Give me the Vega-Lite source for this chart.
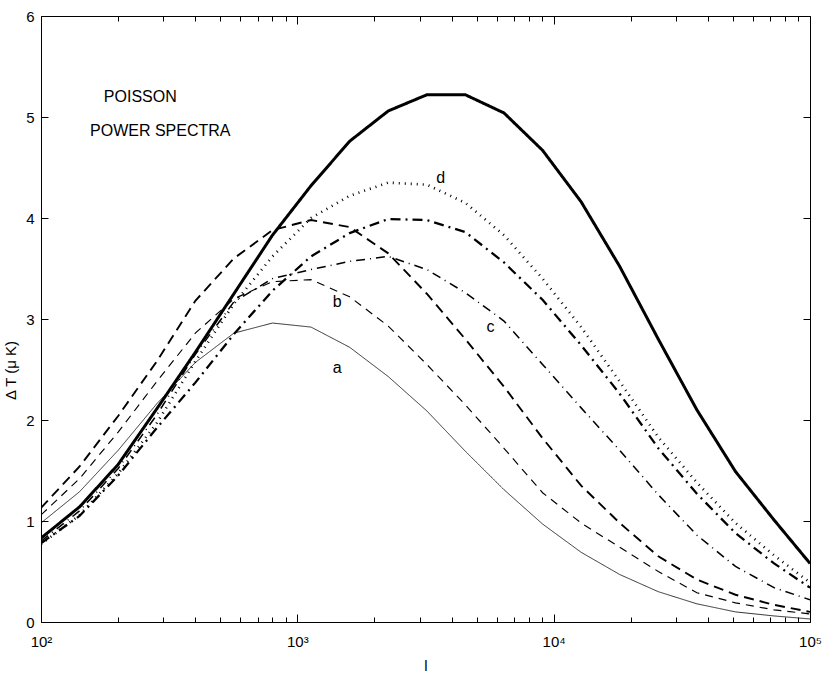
{
  "$schema": "https://vega.github.io/schema/vega-lite/v6.json",
  "autosize": "none",
  "width": 769,
  "height": 606,
  "padding": {"left": 41, "top": 16, "right": 20, "bottom": 53},
  "background": "white",
  "config": {
    "view": {"stroke": null},
    "font": "Liberation Sans",
    "axis": {
      "domainColor": "black",
      "domainWidth": 1,
      "tickColor": "black",
      "tickWidth": 1,
      "labelColor": "black",
      "labelFont": "Liberation Sans",
      "labelFontSize": 15,
      "titleColor": "black",
      "titleFont": "Liberation Sans",
      "titleFontSize": 15,
      "titleFontWeight": "normal",
      "grid": false
    }
  },
  "datasets": {
    "spectra": [
      {"s": "S", "l": 100, "v": 0.83}, {"s": "S", "l": 141.4, "v": 1.14}, {"s": "S", "l": 200, "v": 1.56},
      {"s": "S", "l": 282.8, "v": 2.11}, {"s": "S", "l": 400, "v": 2.67}, {"s": "S", "l": 565.7, "v": 3.25},
      {"s": "S", "l": 800, "v": 3.83}, {"s": "S", "l": 1131, "v": 4.32}, {"s": "S", "l": 1600, "v": 4.76},
      {"s": "S", "l": 2263, "v": 5.06}, {"s": "S", "l": 3200, "v": 5.22}, {"s": "S", "l": 4525, "v": 5.22},
      {"s": "S", "l": 6400, "v": 5.04}, {"s": "S", "l": 9051, "v": 4.67}, {"s": "S", "l": 12800, "v": 4.16},
      {"s": "S", "l": 18102, "v": 3.52}, {"s": "S", "l": 25600, "v": 2.8}, {"s": "S", "l": 36204, "v": 2.1},
      {"s": "S", "l": 51200, "v": 1.49}, {"s": "S", "l": 72408, "v": 1.01}, {"s": "S", "l": 100000, "v": 0.58},

      {"s": "D", "l": 100, "v": 0.77}, {"s": "D", "l": 141.4, "v": 1.06}, {"s": "D", "l": 200, "v": 1.47},
      {"s": "D", "l": 282.8, "v": 1.97}, {"s": "D", "l": 400, "v": 2.58}, {"s": "D", "l": 565.7, "v": 3.15},
      {"s": "D", "l": 800, "v": 3.62}, {"s": "D", "l": 1131, "v": 4.0}, {"s": "D", "l": 1600, "v": 4.22},
      {"s": "D", "l": 2263, "v": 4.35}, {"s": "D", "l": 3200, "v": 4.33}, {"s": "D", "l": 4525, "v": 4.15},
      {"s": "D", "l": 6400, "v": 3.83}, {"s": "D", "l": 9051, "v": 3.4}, {"s": "D", "l": 12800, "v": 2.92},
      {"s": "D", "l": 18102, "v": 2.38}, {"s": "D", "l": 25600, "v": 1.83}, {"s": "D", "l": 36204, "v": 1.38},
      {"s": "D", "l": 51200, "v": 0.98}, {"s": "D", "l": 72408, "v": 0.66}, {"s": "D", "l": 100000, "v": 0.39},

      {"s": "DD", "l": 100, "v": 0.78}, {"s": "DD", "l": 141.4, "v": 1.05}, {"s": "DD", "l": 200, "v": 1.45},
      {"s": "DD", "l": 282.8, "v": 1.92}, {"s": "DD", "l": 400, "v": 2.37}, {"s": "DD", "l": 565.7, "v": 2.85},
      {"s": "DD", "l": 800, "v": 3.28}, {"s": "DD", "l": 1131, "v": 3.62}, {"s": "DD", "l": 1600, "v": 3.85},
      {"s": "DD", "l": 2263, "v": 3.99}, {"s": "DD", "l": 3200, "v": 3.98}, {"s": "DD", "l": 4525, "v": 3.86},
      {"s": "DD", "l": 6400, "v": 3.56}, {"s": "DD", "l": 9051, "v": 3.19}, {"s": "DD", "l": 12800, "v": 2.74},
      {"s": "DD", "l": 18102, "v": 2.26}, {"s": "DD", "l": 25600, "v": 1.72}, {"s": "DD", "l": 36204, "v": 1.27},
      {"s": "DD", "l": 51200, "v": 0.88}, {"s": "DD", "l": 72408, "v": 0.58}, {"s": "DD", "l": 100000, "v": 0.34},

      {"s": "TD", "l": 100, "v": 1.13}, {"s": "TD", "l": 141.4, "v": 1.54}, {"s": "TD", "l": 200, "v": 2.04},
      {"s": "TD", "l": 282.8, "v": 2.58}, {"s": "TD", "l": 400, "v": 3.18}, {"s": "TD", "l": 565.7, "v": 3.6},
      {"s": "TD", "l": 800, "v": 3.88}, {"s": "TD", "l": 1131, "v": 3.98}, {"s": "TD", "l": 1600, "v": 3.91},
      {"s": "TD", "l": 2263, "v": 3.65}, {"s": "TD", "l": 3200, "v": 3.25}, {"s": "TD", "l": 4525, "v": 2.8},
      {"s": "TD", "l": 6400, "v": 2.33}, {"s": "TD", "l": 9051, "v": 1.82}, {"s": "TD", "l": 12800, "v": 1.35},
      {"s": "TD", "l": 18102, "v": 0.98}, {"s": "TD", "l": 25600, "v": 0.65}, {"s": "TD", "l": 36204, "v": 0.42},
      {"s": "TD", "l": 51200, "v": 0.27}, {"s": "TD", "l": 72408, "v": 0.17}, {"s": "TD", "l": 100000, "v": 0.1},

      {"s": "C", "l": 100, "v": 0.8}, {"s": "C", "l": 141.4, "v": 1.1}, {"s": "C", "l": 200, "v": 1.52},
      {"s": "C", "l": 282.8, "v": 2.05}, {"s": "C", "l": 400, "v": 2.65}, {"s": "C", "l": 565.7, "v": 3.17},
      {"s": "C", "l": 800, "v": 3.4}, {"s": "C", "l": 1131, "v": 3.49}, {"s": "C", "l": 1600, "v": 3.57},
      {"s": "C", "l": 2263, "v": 3.62}, {"s": "C", "l": 3200, "v": 3.49}, {"s": "C", "l": 4525, "v": 3.26},
      {"s": "C", "l": 6400, "v": 2.98}, {"s": "C", "l": 9051, "v": 2.55}, {"s": "C", "l": 12800, "v": 2.12},
      {"s": "C", "l": 18102, "v": 1.7}, {"s": "C", "l": 25600, "v": 1.26}, {"s": "C", "l": 36204, "v": 0.86},
      {"s": "C", "l": 51200, "v": 0.55}, {"s": "C", "l": 72408, "v": 0.34}, {"s": "C", "l": 100000, "v": 0.22},

      {"s": "B", "l": 100, "v": 1.06}, {"s": "B", "l": 141.4, "v": 1.42}, {"s": "B", "l": 200, "v": 1.88},
      {"s": "B", "l": 282.8, "v": 2.38}, {"s": "B", "l": 400, "v": 2.86}, {"s": "B", "l": 565.7, "v": 3.2},
      {"s": "B", "l": 800, "v": 3.37}, {"s": "B", "l": 1131, "v": 3.39}, {"s": "B", "l": 1600, "v": 3.22},
      {"s": "B", "l": 2263, "v": 2.93}, {"s": "B", "l": 3200, "v": 2.55}, {"s": "B", "l": 4525, "v": 2.15},
      {"s": "B", "l": 6400, "v": 1.72}, {"s": "B", "l": 9051, "v": 1.28}, {"s": "B", "l": 12800, "v": 0.98},
      {"s": "B", "l": 18102, "v": 0.74}, {"s": "B", "l": 25600, "v": 0.5}, {"s": "B", "l": 36204, "v": 0.29},
      {"s": "B", "l": 51200, "v": 0.19}, {"s": "B", "l": 72408, "v": 0.12}, {"s": "B", "l": 100000, "v": 0.08},

      {"s": "A", "l": 100, "v": 0.98}, {"s": "A", "l": 141.4, "v": 1.29}, {"s": "A", "l": 200, "v": 1.7},
      {"s": "A", "l": 282.8, "v": 2.16}, {"s": "A", "l": 400, "v": 2.57}, {"s": "A", "l": 565.7, "v": 2.86},
      {"s": "A", "l": 800, "v": 2.96}, {"s": "A", "l": 1131, "v": 2.92}, {"s": "A", "l": 1600, "v": 2.72},
      {"s": "A", "l": 2263, "v": 2.43}, {"s": "A", "l": 3200, "v": 2.09}, {"s": "A", "l": 4525, "v": 1.69},
      {"s": "A", "l": 6400, "v": 1.31}, {"s": "A", "l": 9051, "v": 0.97}, {"s": "A", "l": 12800, "v": 0.69},
      {"s": "A", "l": 18102, "v": 0.47}, {"s": "A", "l": 25600, "v": 0.3}, {"s": "A", "l": 36204, "v": 0.18},
      {"s": "A", "l": 51200, "v": 0.1}, {"s": "A", "l": 72408, "v": 0.06}, {"s": "A", "l": 100000, "v": 0.03}
    ],
    "notes": [
      {"text": "POISSON", "l": 244, "v": 5.2},
      {"text": "POWER SPECTRA", "l": 292, "v": 4.86},
      {"text": "a", "l": 1432, "v": 2.51},
      {"text": "b", "l": 1432, "v": 3.17},
      {"text": "c", "l": 5675, "v": 2.92},
      {"text": "d", "l": 3622, "v": 4.4}
    ]
  },
  "layer": [
    {
      "data": {"name": "spectra"},
      "mark": {"type": "line", "color": "black", "clip": true},
      "encoding": {
        "x": {
          "field": "l",
          "type": "quantitative",
          "scale": {"type": "log", "domain": [100, 100000], "nice": false},
          "axis": {
            "orient": "bottom",
            "title": "l",
            "titleY": 43,
            "titleBaseline": "middle",
            "values": [100, 200, 300, 400, 500, 600, 700, 800, 900, 1000, 2000, 3000, 4000, 5000, 6000, 7000, 8000, 9000, 10000, 20000, 30000, 40000, 50000, 60000, 70000, 80000, 90000, 100000],
            "labelExpr": "datum.value == 100 ? '10²' : datum.value == 1000 ? '10³' : datum.value == 10000 ? '10⁴' : datum.value == 100000 ? '10⁵' : ''",
            "labelPadding": 20,
            "labelOverlap": false,
            "labelFlush": false,
            "tickSize": {"condition": {"test": "datum.value == 100 || datum.value == 1000 || datum.value == 10000 || datum.value == 100000", "value": -8}, "value": -5}
          }
        },
        "y": {
          "field": "v",
          "type": "quantitative",
          "scale": {"domain": [0, 6], "nice": false},
          "axis": {
            "orient": "left",
            "title": "Δ T  (μ K)",
            "titleX": -31,
            "titleY": 354,
            "titleBaseline": "middle",
            "values": [0, 1, 2, 3, 4, 5, 6],
            "labelPadding": 14,
            "tickSize": -7
          }
        },
        "strokeDash": {
          "field": "s",
          "type": "nominal",
          "scale": {
            "domain": ["S", "D", "DD", "TD", "C", "B", "A"],
            "range": [[1, 0], [1, 5], [10, 5, 2, 5], [10, 6], [9, 5, 1, 5], [8, 6], [1, 0]]
          },
          "legend": null
        },
        "strokeWidth": {
          "field": "s",
          "type": "nominal",
          "scale": {
            "domain": ["S", "D", "DD", "TD", "C", "B", "A"],
            "range": [3, 0.8, 3, 3, 0.9, 0.9, 0.9]
          },
          "legend": null
        }
      }
    },
    {
      "data": {"name": "notes"},
      "mark": {"type": "text", "color": "black", "font": "Liberation Sans", "fontSize": 16, "baseline": "middle", "align": "center"},
      "encoding": {
        "x": {
          "field": "l",
          "type": "quantitative",
          "axis": {
            "orient": "top",
            "title": null,
            "labels": false,
            "values": [100, 200, 300, 400, 500, 600, 700, 800, 900, 1000, 2000, 3000, 4000, 5000, 6000, 7000, 8000, 9000, 10000, 20000, 30000, 40000, 50000, 60000, 70000, 80000, 90000, 100000],
            "tickSize": {"condition": {"test": "datum.value == 100 || datum.value == 1000 || datum.value == 10000 || datum.value == 100000", "value": -8}, "value": -5}
          }
        },
        "y": {
          "field": "v",
          "type": "quantitative",
          "axis": {
            "orient": "right",
            "title": null,
            "labels": false,
            "values": [0, 1, 2, 3, 4, 5, 6],
            "tickSize": -7
          }
        },
        "text": {"field": "text"}
      }
    }
  ],
  "resolve": {"axis": {"x": "independent", "y": "independent"}}
}
